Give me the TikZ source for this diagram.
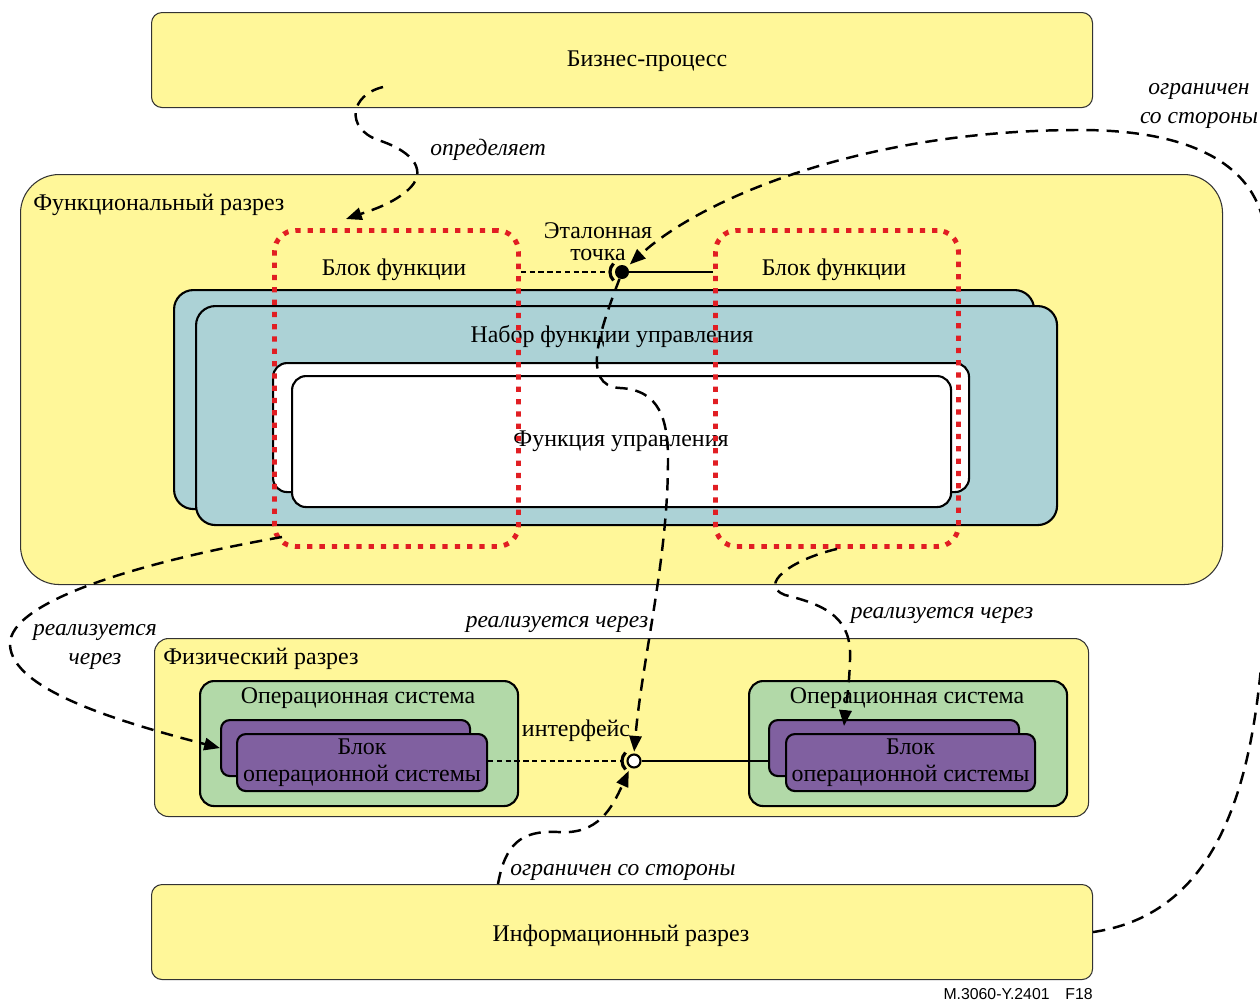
\documentclass[tikz,border=0pt]{standalone}
\usepackage{fontspec}
\setmainfont{Liberation Serif}
\newfontfamily\kennung{Liberation Sans}
\usetikzlibrary{arrows.meta}

\definecolor{zheltyj}{RGB}{255,247,153}
\definecolor{birjuza}{RGB}{172,210,214}
\definecolor{zelenyj}{RGB}{178,217,168}
\definecolor{fiolet}{RGB}{128,96,160}
\definecolor{krasnyj}{RGB}{225,30,35}

\tikzset{
    razmer/.style 2 args={minimum width=#1*0.02cm, minimum height=#2*0.02cm, anchor=north west, inner sep=0pt},
    razdel/.style={draw=black!80, line width=0.6pt, fill=zheltyj},
    nabor/.style={draw=black, line width=1.2pt, fill=birjuza, rounded corners=11pt},
    funkcija/.style={draw=black, line width=1.2pt, fill=white, rounded corners=8pt},
    blok/.style={draw=krasnyj, line width=2.8pt, dash pattern=on 3pt off 4pt, rounded corners=12pt},
    sistema/.style={draw=black, line width=1.2pt, fill=zelenyj, rounded corners=8pt},
    osblok/.style={draw=black, line width=1.2pt, fill=fiolet, rounded corners=5pt},
    svjaz/.style={line width=1.4pt, dash pattern=on 7pt off 4.5pt, -{Triangle[length=9pt,width=7pt]}},
    podpis/.style={font=\fontsize{13.4}{15}\selectfont\itshape, align=center},
}

\begin{document}
\begin{tikzpicture}[x=0.02cm, y=-0.02cm, every node/.append style={font=\fontsize{13.6}{15}\selectfont}]

    \useasboundingbox (0,0) rectangle (1260,1001);

    % Разрезы
    \node [razdel, rounded corners=6pt, razmer={941}{95}] (biznes) at (151,12) {};
    \node [] (t-biznes) at (647,61) {Бизнес-процесс};
    \node [razdel, rounded corners=22pt, razmer={1202}{410}] (funkc) at (20,174) {};
    \node [anchor=west, inner sep=0pt] (t-funkc) at (33,205) {Функциональный разрез};
    \node [razdel, rounded corners=8pt, razmer={934}{178}] (fizich) at (154,638) {};
    \node [anchor=west, inner sep=0pt] (t-fizich) at (163,659) {Физический разрез};
    \node [razdel, rounded corners=6pt, razmer={941}{95}] (inform) at (151,884) {};
    \node [] (t-inform) at (621,936) {Информационный разрез};

    % Набор функции управления
    \node [nabor, razmer={860}{219}] (nabor1) at (173,289) {};
    \node [nabor, razmer={861}{219}] (nabor2) at (195,305) {};
    \node [] (t-nabor) at (612,337) {Набор функции управления};
    \node [funkcija, razmer={696}{129}] (funkcija1) at (272,362) {};
    \node [funkcija, razmer={659}{131}] (funkcija2) at (291,375) {};
    \node [] (t-funkcija) at (621,441) {Функция управления};

    % Блоки функции
    \node [blok, razmer={244}{316}] (blok1) at (272,228) {};
    \node [blok, razmer={243}{316}] (blok2) at (713,228) {};
    \node [] (t-blok1) at (394,270) {Блок функции};
    \node [] (t-blok2) at (834,270) {Блок функции};

    % Эталонная точка
    \node [circle, fill=black, inner sep=0pt, minimum size=0.28cm] (tochka) at (622,272) {};
    \node [align=center, inner sep=1pt, font=\fontsize{13.6}{12.5}\selectfont] (t-tochka) at (598,242) {Эталонная\\точка};
    \draw [line width=1.8pt] ([shift={(135:0.24cm)}]tochka.center) arc [start angle=135, end angle=225, radius=0.24cm];
    \draw [line width=1.2pt, dash pattern=on 3pt off 2pt] (blok1.east |- tochka) -- ([xshift=-0.24cm]tochka.center);
    \draw [line width=1.4pt] (tochka) -- (blok2.west |- tochka);

    % Операционные системы
    \node [sistema, razmer={318}{125}] (os1) at (199,680) {};
    \node [] (t-os1) at (358,698) {Операционная система};
    \node [osblok, razmer={249}{56}] (osblok1a) at (220,719) {};
    \node [osblok, razmer={250}{57}, align=center] (osblok1b) at (236,733) {\raisebox{-2pt}{Блок}\\[2pt]операционной системы};
    \node [sistema, razmer={318}{125}] (os2) at (748,680) {};
    \node [] (t-os2) at (907,698) {Операционная система};
    \node [osblok, razmer={250}{56}] (osblok2a) at (768,719) {};
    \node [osblok, razmer={249}{57}, align=center] (osblok2b) at (785,733) {\raisebox{-2pt}{Блок}\\[2pt]операционной системы};

    % Интерфейс
    \node [circle, draw=black, fill=white, line width=1.2pt, inner sep=0pt, minimum size=0.26cm] (interfejs) at (634,761) {};
    \node [] (t-interfejs) at (576,731) {интерфейс};
    \draw [line width=1.8pt] ([shift={(135:0.24cm)}]interfejs.center) arc [start angle=135, end angle=225, radius=0.24cm];
    \draw [line width=1.2pt, dash pattern=on 3pt off 2pt] (osblok1b.east |- interfejs) -- ([xshift=-0.24cm]interfejs.center);
    \draw [line width=1.4pt] (interfejs) -- (osblok2a.west |- interfejs);

    % Связи
    \coordinate (opr-a) at (383,87);
    \coordinate (opr-b) at (346,219);
    \draw [svjaz] (opr-a) .. controls (350,95) and (345,128) .. (378,140) .. controls (415,152) and (428,172) .. (408,190) .. controls (392,204) and (372,210) .. (opr-b);
    \node [podpis, anchor=west, inner sep=0pt] (t-opr) at (430,150) {определяет};

    \draw [svjaz, shorten >=2pt] (inform.east) .. controls (1230,912) and (1264,760) .. (1266,560) -- (1266,240) .. controls (1262,170) and (1200,130) .. (1080,130) .. controls (860,130) and (700,200) .. (tochka.north east);
    \node [podpis] (t-ogr1) at (1199,106) {ограничен\\[1pt]со стороны};

    \coordinate (real1-a) at (282,537);
    \draw [svjaz] (real1-a) .. controls (150,560) and (8,600) .. (10,645) .. controls (12,690) and (120,722) .. (osblok1a.west);
    \node [podpis] (t-real1) at (95,647) {реализуется\\[1pt]через};

    \draw [svjaz, shorten >=1pt] (tochka.250) .. controls (600,330) and (580,386) .. (620,388) .. controls (660,390) and (668,420) .. (668,460) .. controls (668,560) and (642,660) .. (interfejs.north);
    \node [podpis] (t-real2) at (557,624) {реализуется через};

    \coordinate (real3-b) at (844,726);
    \draw [svjaz] (blok2.south) .. controls (790,560) and (758,585) .. (785,595) .. controls (830,606) and (852,620) .. (850,660) .. controls (849,690) and (846,705) .. (real3-b);
    \node [podpis] (t-real3) at (942,615) {реализуется через};

    \coordinate (ogr2-a) at (498,884);
    \draw [svjaz, shorten >=2pt] (ogr2-a) .. controls (505,845) and (520,830) .. (558,832) .. controls (598,835) and (612,808) .. (interfejs.240);
    \node [podpis] (t-ogr2) at (623,872) {ограничен со стороны};

    \node [anchor=east, inner sep=0pt, font=\kennung\fontsize{9}{10}\selectfont] (kennung) at (1093,994) {M.3060-Y.2401\quad F18};

\end{tikzpicture}
\end{document}
